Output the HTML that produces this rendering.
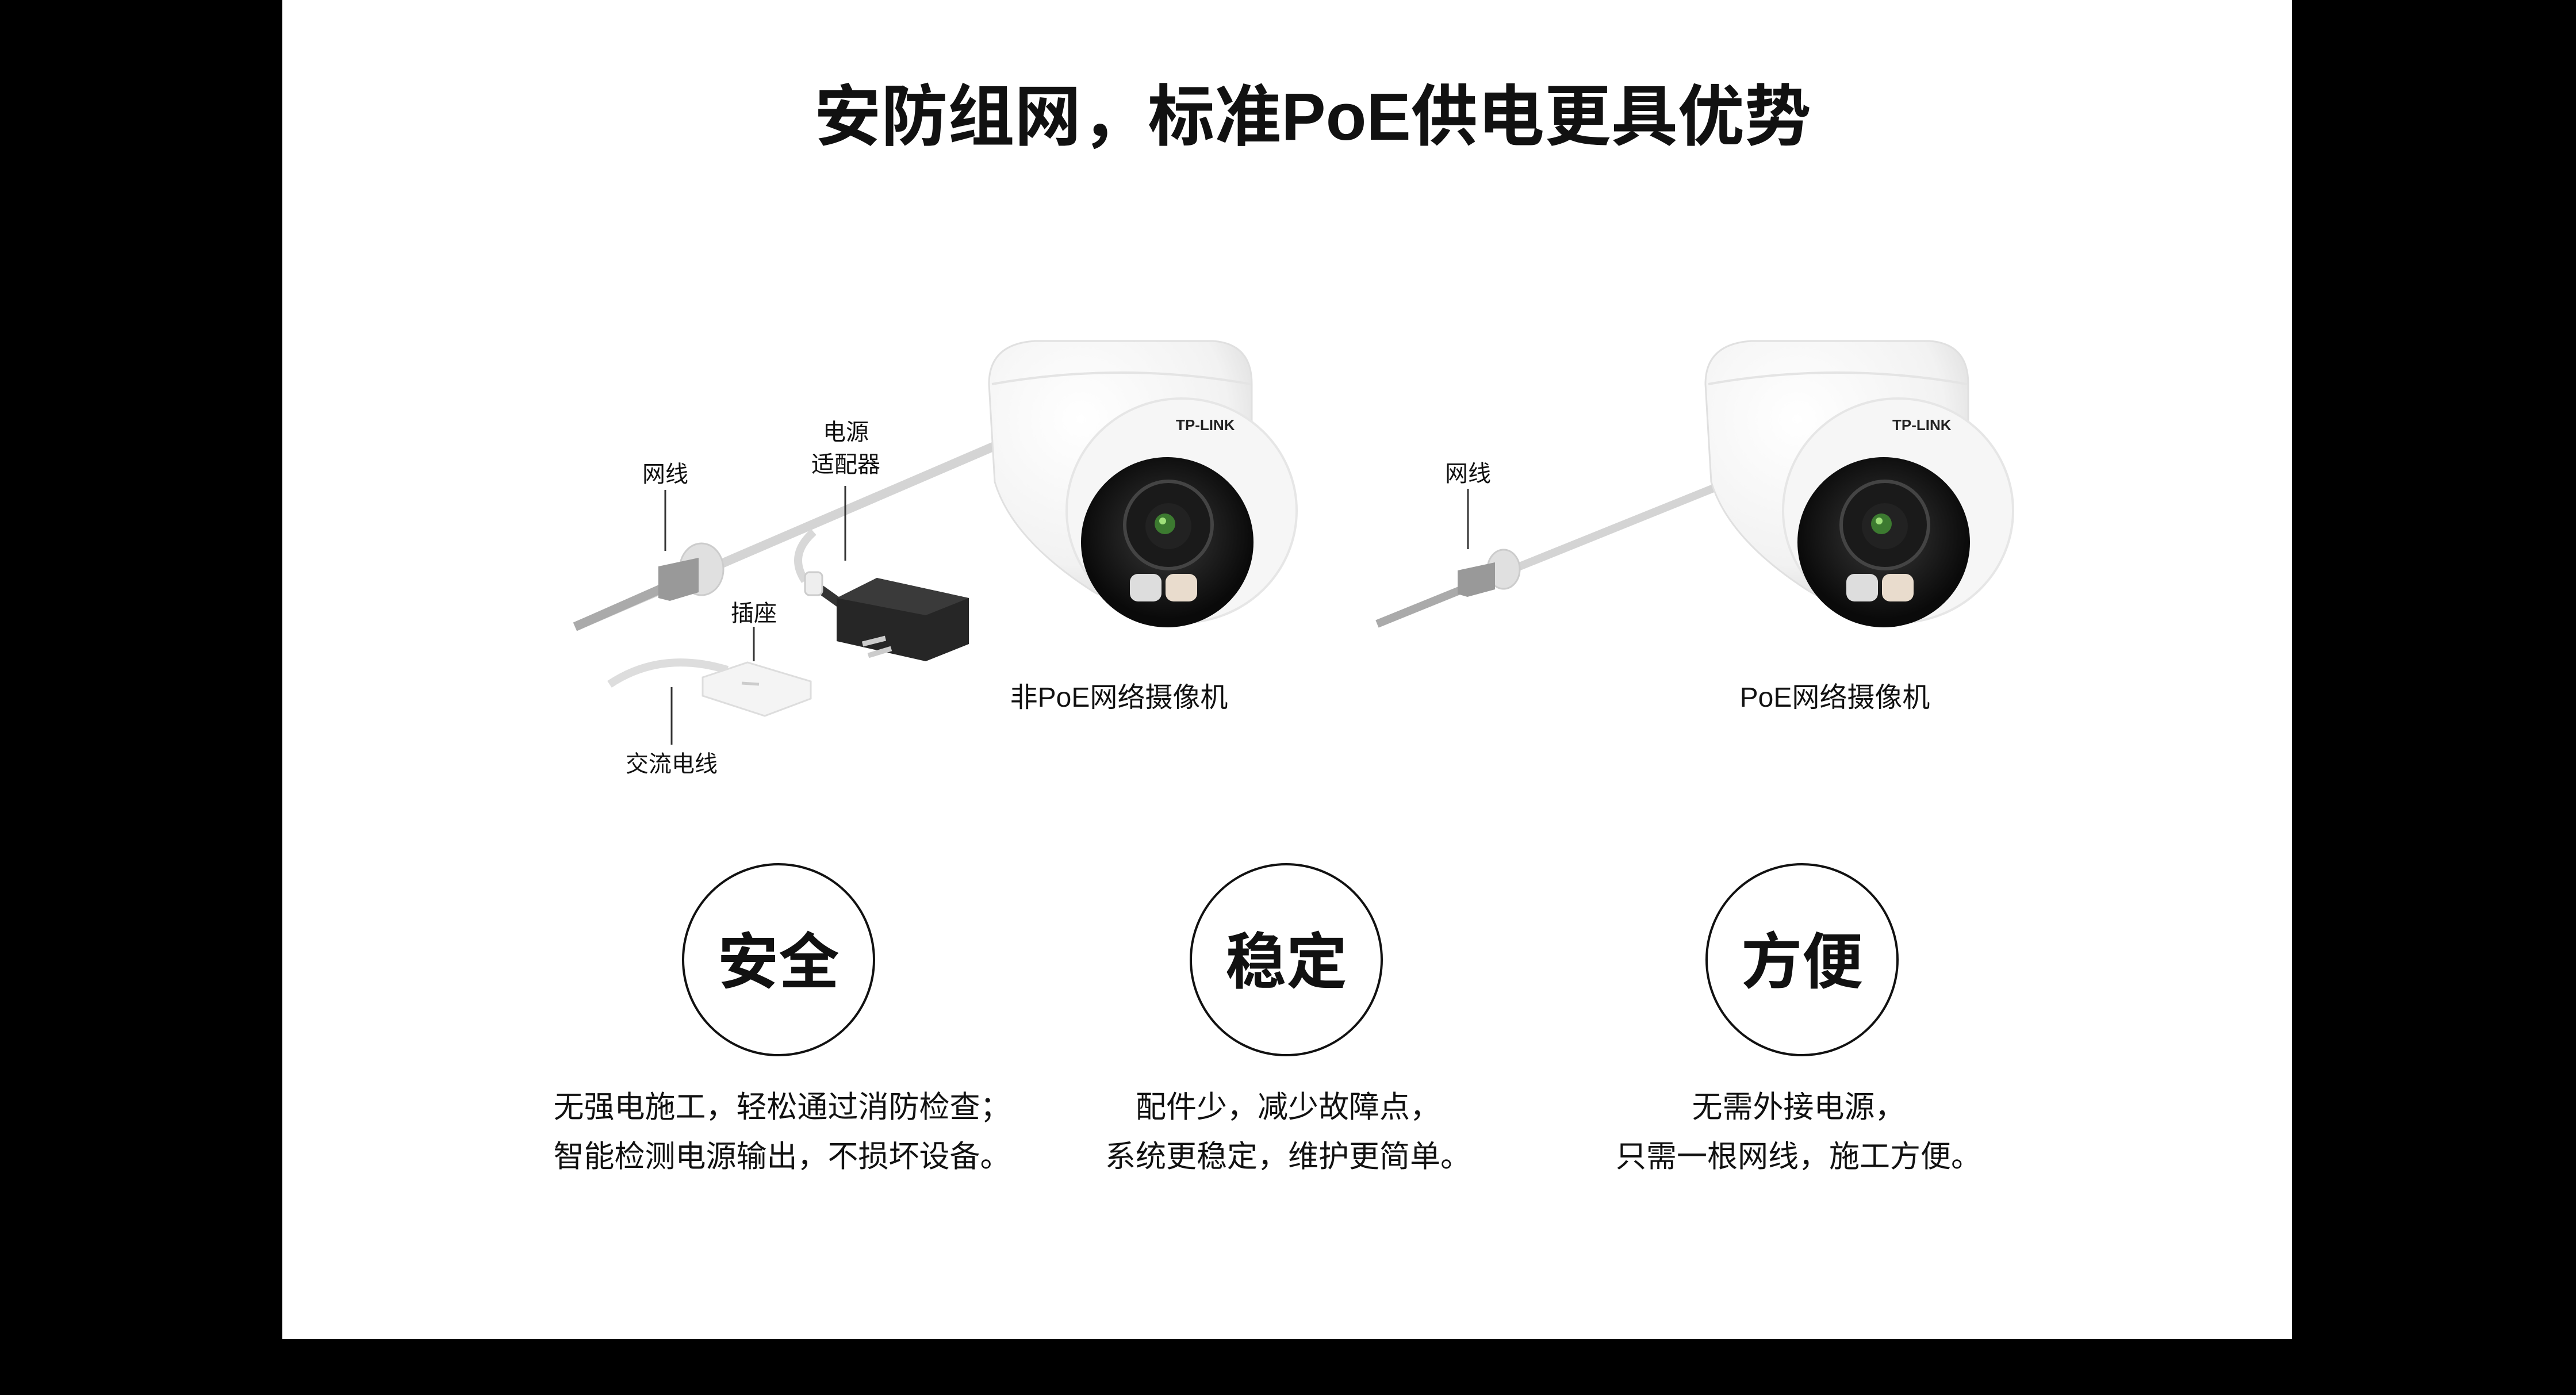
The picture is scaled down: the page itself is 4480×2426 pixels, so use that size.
<!DOCTYPE html>
<html><head><meta charset="utf-8"><style>
html,body{margin:0;padding:0;background:#000;}
body{width:4480px;height:2426px;position:relative;overflow:hidden;font-family:"Liberation Sans","Noto Sans CJK SC",sans-serif;}
.panel{position:absolute;left:491px;top:0;width:3495px;height:2329px;background:#fff;}
.t{position:absolute;white-space:nowrap;color:#111;transform:translateX(-50%);}
</style></head><body>
<div class="panel"></div>
<svg width="4480" height="2426" viewBox="0 0 4480 2426" style="position:absolute;left:0;top:0">
<defs>
<radialGradient id="dome" cx="0.35" cy="0.3" r="0.8"><stop offset="0" stop-color="#fff"/><stop offset="0.7" stop-color="#f2f2f2"/><stop offset="1" stop-color="#d6d6d6"/></radialGradient>
<radialGradient id="lens" cx="0.5" cy="0.45" r="0.5"><stop offset="0" stop-color="#3a3a3a"/><stop offset="1" stop-color="#0a0a0a"/></radialGradient>
<g id="cam">
<path d="M0,80 Q0,10 80,5 L390,5 Q457,10 457,80 L457,170 Q450,380 300,450 Q230,470 180,440 Q40,350 10,250 Z" fill="url(#dome)" stroke="#e0e0e0" stroke-width="3"/>
<path d="M5,80 Q230,40 455,80" fill="none" stroke="#e4e4e4" stroke-width="4"/>
<ellipse cx="335" cy="300" rx="200" ry="195" fill="#f6f6f6" stroke="#e6e6e6" stroke-width="4"/>
<ellipse cx="310" cy="355" rx="150" ry="148" fill="url(#lens)"/>
<circle cx="312" cy="325" r="76" fill="#1a1a1a" stroke="#444" stroke-width="6"/>
<circle cx="312" cy="327" r="40" fill="#222"/>
<circle cx="306" cy="323" r="18" fill="#3c7a30"/>
<circle cx="302" cy="318" r="6" fill="#9fe07a"/>
<rect x="245" y="410" width="55" height="48" rx="14" fill="#ddd"/>
<rect x="307" y="410" width="55" height="48" rx="14" fill="#e9dccd"/>
<text x="325" y="160" font-family="Liberation Sans" font-weight="bold" font-size="26" fill="#222">TP-LINK</text>
</g>
</defs>
<path d="M1000,1090 L1743,770" stroke="#d4d4d4" stroke-width="16" fill="none"/>
<path d="M1000,1090 L1170,1015" stroke="#aaa" stroke-width="16" fill="none"/>
<path d="M1415,925 Q1370,965 1400,1010" stroke="#d8d8d8" stroke-width="14" fill="none"/>
<path d="M1420,1020 L1490,1070" stroke="#333" stroke-width="16" fill="none"/>
<rect x="1400" y="995" width="30" height="40" rx="8" fill="#eee" stroke="#ccc" stroke-width="3"/>
<ellipse cx="1220" cy="990" rx="38" ry="45" fill="#e0e0e0" stroke="#ccc" stroke-width="3"/>
<path d="M1145,985 L1215,970 L1215,1030 L1165,1045 L1145,1040 Z" fill="#999"/>
<path d="M1455,1040 L1525,1005 L1685,1040 L1685,1120 L1610,1150 L1455,1115 Z" fill="#262626"/>
<path d="M1525,1005 L1685,1040 L1610,1070 L1455,1040 Z" fill="#3a3a3a"/>
<path d="M1500,1120 L1540,1110 M1510,1140 L1550,1128" stroke="#ccc" stroke-width="9"/>
<path d="M1060,1190 Q1150,1130 1265,1165" stroke="#ddd" stroke-width="14" fill="none"/>
<path d="M1222,1178 L1300,1152 L1410,1185 L1410,1215 L1330,1245 L1222,1210 Z" fill="#f4f4f4" stroke="#ddd" stroke-width="3"/>
<path d="M1290,1188 L1320,1190" stroke="#ccc" stroke-width="5"/>
<g stroke="#333" stroke-width="3">
<line x1="1157" y1="852" x2="1157" y2="958"/>
<line x1="1470" y1="845" x2="1470" y2="975"/>
<line x1="1311" y1="1090" x2="1311" y2="1150"/>
<line x1="1168" y1="1195" x2="1168" y2="1295"/>
<line x1="2553" y1="850" x2="2553" y2="955"/>
</g>
<path d="M2395,1085 L2990,845" stroke="#d4d4d4" stroke-width="14" fill="none"/>
<path d="M2395,1085 L2560,1018" stroke="#aaa" stroke-width="14" fill="none"/>
<ellipse cx="2615" cy="990" rx="28" ry="34" fill="#e0e0e0" stroke="#ccc" stroke-width="3"/>
<path d="M2535,992 L2600,978 L2600,1025 L2552,1038 L2535,1033 Z" fill="#999"/>
<use href="#cam" x="1720" y="588"/>
<use href="#cam" x="2966" y="588"/>
<g fill="none" stroke="#111" stroke-width="4">
<circle cx="1354" cy="1669" r="166"/>
<circle cx="2237" cy="1669" r="166"/>
<circle cx="3134" cy="1669" r="166"/>
</g>
</svg>
<div class="t" style="left:2283px;top:109px;font-size:116px;font-weight:bold;">安防组网，标准PoE供电更具优势</div>
<div class="t" style="left:1157px;top:792px;font-size:40px;">网线</div>
<div class="t" style="left:1471px;top:719px;font-size:40px;">电源</div>
<div class="t" style="left:1471px;top:775px;font-size:40px;">适配器</div>
<div class="t" style="left:1311px;top:1034px;font-size:40px;">插座</div>
<div class="t" style="left:1168px;top:1296px;font-size:40px;">交流电线</div>
<div class="t" style="left:2553px;top:791px;font-size:40px;">网线</div>
<div class="t" style="left:1946px;top:1173px;font-size:48px;">非PoE网络摄像机</div>
<div class="t" style="left:3191px;top:1173px;font-size:48px;">PoE网络摄像机</div>
<div class="t" style="left:1354px;top:1587px;font-size:106px;font-weight:bold;">安全</div>
<div class="t" style="left:2237px;top:1587px;font-size:106px;font-weight:bold;">稳定</div>
<div class="t" style="left:3134px;top:1587px;font-size:106px;font-weight:bold;">方便</div>
<div class="t" style="left:1360px;top:1883px;font-size:53px;line-height:86px;text-align:center;">无强电施工，轻松通过消防检查；<br>智能检测电源输出，不损坏设备。</div>
<div class="t" style="left:2240px;top:1883px;font-size:53px;line-height:86px;text-align:center;">配件少，减少故障点，<br>系统更稳定，维护更简单。</div>
<div class="t" style="left:3128px;top:1883px;font-size:53px;line-height:86px;text-align:center;">无需外接电源，<br>只需一根网线，施工方便。</div>
</body></html>
